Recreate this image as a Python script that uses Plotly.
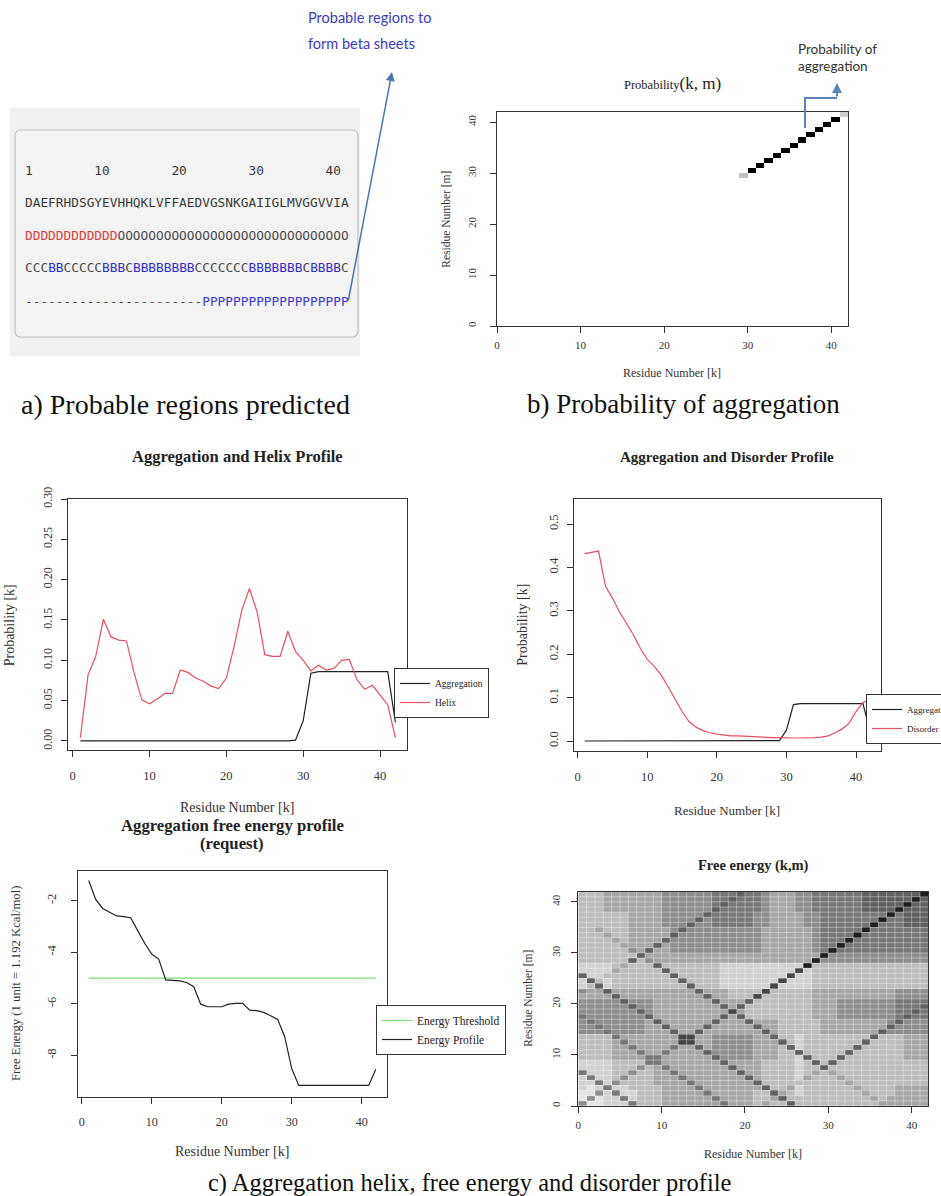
import plotly.graph_objects as go

W, H = 941, 1196

# ---------------- data ----------------
residues = list(range(1, 43))

sequence       = "DAEFRHDSGYEVHHQKLVFFAEDVGSNKGAIIGLMVGGVVIA"
disorder_pred  = "DDDDDDDDDD" "DD" "OOOOOOOOOO" "OOOOOOOOOO" "OOOOOOOOOO"
secondary_pred = "CCCBBCCCCC" "BBBCBBBBBB" "BBCCCCCCCB" "BBBBBBCBBB" "BC"
aggreg_pred    = "----------" "----------" "---" "PPPPPPPPPP" "PPPPPPPPP"
ruler_marks    = [1, 10, 20, 30, 40]

# probability of aggregation along the diagonal (k = m), residues 30..42
prob_km_residues = [30, 31, 32, 33, 34, 35, 36, 37, 38, 39, 40, 41, 42]
prob_km_values   = [0.25, 1.0, 1.0, 1.0, 1.0, 1.0, 1.0, 1.0, 1.0, 1.0, 1.0, 1.0, 0.2]

aggregation = [0.000, 0.000, 0.000, 0.000, 0.000, 0.000, 0.000, 0.000, 0.000, 0.000,
               0.000, 0.000, 0.000, 0.000, 0.000, 0.000, 0.000, 0.000, 0.000, 0.000,
               0.000, 0.000, 0.000, 0.000, 0.000, 0.000, 0.000, 0.000, 0.001, 0.025,
               0.084, 0.086, 0.086, 0.086, 0.086, 0.086, 0.086, 0.086, 0.086, 0.086,
               0.086, 0.023]

helix = [0.004, 0.082, 0.105, 0.151, 0.129, 0.125, 0.124, 0.084, 0.051, 0.046,
         0.052, 0.059, 0.059, 0.088, 0.085, 0.078, 0.074, 0.068, 0.065, 0.078,
         0.117, 0.162, 0.189, 0.160, 0.107, 0.105, 0.105, 0.136, 0.111, 0.100,
         0.087, 0.094, 0.088, 0.090, 0.100, 0.101, 0.076, 0.064, 0.069, 0.057,
         0.045, 0.004]

disorder = [0.432, 0.435, 0.438, 0.356, 0.329, 0.298, 0.273, 0.245, 0.214, 0.188,
            0.172, 0.152, 0.125, 0.095, 0.068, 0.045, 0.032, 0.024, 0.019, 0.016,
            0.014, 0.012, 0.012, 0.011, 0.011, 0.010, 0.009, 0.008, 0.008, 0.007,
            0.007, 0.007, 0.007, 0.008, 0.009, 0.012, 0.019, 0.028, 0.041, 0.068,
            0.089, 0.095]

energy = [-1.22, -1.95, -2.30, -2.43, -2.59, -2.62, -2.66, -3.16, -3.65, -4.07,
          -4.26, -5.07, -5.10, -5.11, -5.17, -5.33, -6.01, -6.11, -6.11, -6.11,
          -6.01, -5.98, -5.98, -6.24, -6.26, -6.33, -6.46, -6.60, -7.27, -8.50,
          -9.16, -9.16, -9.16, -9.16, -9.16, -9.16, -9.16, -9.16, -9.16, -9.16,
          -9.16, -8.54]
energy_threshold = -5.0

# Free energy (k,m): estimated grey level 0 (light) .. 9 (dark); first row is m = 1, columns k = 1..42
free_energy_rows = [
    "5112226 3334444 4446444 3433733 3333333 3444444",
    "1512262 3334444 4464444 3347333 3333333 4344444",
    "1152622 3334444 4644444 3374323 3333334 3334444",
    "2126223 3334444 6444444 4733423 3333343 3334444",
    "2262533 3344446 4444444 7333333 3333433 3333333",
    "2622353 3344464 4444447 4333324 3334333 3333333",
    "6222335 3344644 4444474 4333323 4343333 3333333",
    "2222333 5346444 4444744 4333323 3733333 3333333",
    "2222333 3664444 4447444 4333323 7373333 3333333",
    "3333444 4664444 4475555 4443327 3337333 3333444",
    "3333444 6446444 4755555 4443373 3333733 3333444",
    "3333446 4444644 7455555 4443723 3333373 3333444",
    "3333464 4444488 4455555 4447323 3333337 3333444",
    "3333644 4444488 4455555 4473323 3333333 7333444",
    "5556555 5444744 7444444 4743333 3444444 4755555",
    "5565555 5447444 4744444 7443333 3444444 4475555",
    "5655555 5474444 4474447 4443333 3444444 4457555",
    "6555555 5744444 4447473 3333333 4445555 5556766",
    "5555555 7544444 4444843 3333333 4445555 5556676",
    "5555557 5544444 4447473 3333333 4445555 5556667",
    "5555575 5544444 4474447 3333333 4445555 5556666",
    "4444744 4444444 4744333 8333333 4444444 4445555",
    "5447444 4444444 7444333 3833333 4444444 4445555",
    "2372333 3333337 3332222 2282222 3333333 3333333",
    "2732333 3333373 3332222 2228222 3333333 3333333",
    "7223333 3333733 3332222 2222822 3333333 3333333",
    "2222433 3337333 3332222 2222282 3333333 3333333",
    "2222343 3373333 3332222 2222229 3333333 3333333",
    "3333337 3544444 4444444 4444444 9555555 5555555",
    "3333333 7444444 4444444 4444444 4955555 5555555",
    "3333335 4744555 5555555 5444444 5696666 6666666",
    "3333344 4474555 5555555 5444444 5669666 6666666",
    "3333434 4447555 5555555 5444444 5666966 6666666",
    "3334334 4444755 5555555 5444444 5666696 6666666",
    "3343334 4444575 5555555 5444444 5666669 6666666",
    "3333334 4445557 5566666 5544445 5666666 9666777",
    "3333334 4445555 7566666 5544445 5666666 6966777",
    "3333334 4445555 5766666 5544445 5666666 6696777",
    "3334444 4445555 5576666 6544455 6666667 7779777",
    "3334444 4445555 5567666 6544455 6666667 7777977",
    "3334444 4445555 5566766 6544455 6666667 7777797",
    "3334444 4445555 5566676 6544455 6666667 7777779",
]

# ---------------- helpers ----------------
def X(px):
    return px / W

def Y(py):
    return 1 - py / H

def dom_x(a, b):
    return [X(a), X(b)]

def dom_y(top, bottom):
    return [Y(bottom), Y(top)]

SERIF = "Liberation Serif"
MONO = "DejaVu Sans Mono"

def txt(x, y, text, size, family=SERIF, color="#222", angle=0, xanchor="center", yanchor="middle"):
    return dict(x=X(x), y=Y(y), xref="paper", yref="paper", text=text, showarrow=False,
                font=dict(family=family, size=size, color=color), textangle=angle,
                xanchor=xanchor, yanchor=yanchor)

def colored(s, cmap, default="#444"):
    out, cur, run = [], None, ""
    for ch in s:
        c = cmap.get(ch, default)
        if c != cur and run:
            out.append("<span style='color:%s'>%s</span>" % (cur, run))
            run = ""
        cur = c
        run += ch.replace(" ", "\u00a0")
    if run:
        out.append("<span style='color:%s'>%s</span>" % (cur, run))
    return "".join(out)

def axis(domain, rng, tickvals, ticktext, anchor, size, is_y=False, standoff=0):
    d = dict(domain=domain, range=rng, anchor=anchor, tickmode="array",
             tickvals=tickvals, ticktext=ticktext, showline=True, mirror=True,
             linecolor="#333", linewidth=1, ticks="outside", ticklen=6, tickwidth=1,
             tickcolor="#333", tickfont=dict(family=SERIF, size=size, color="#333"),
             showgrid=False, zeroline=False, ticklabelstandoff=standoff, fixedrange=True)
    if is_y:
        d["tickangle"] = -90
    return d

# ---------------- derived matrices ----------------
n = len(residues)
cell_centres = [r - 0.5 for r in residues]

prob_z = [[None] * n for _ in range(n)]
for r, v in zip(prob_km_residues, prob_km_values):
    prob_z[r - 1][r - 1] = v

fe_z = [[int(c) for c in row.replace(" ", "")] for row in free_energy_rows]

fe_scale = [[0 / 9, "#f4f4f4"], [1 / 9, "#e4e4e4"], [2 / 9, "#d2d2d2"], [3 / 9, "#bdbdbd"],
            [4 / 9, "#a6a6a6"], [5 / 9, "#8e8e8e"], [6 / 9, "#777777"], [7 / 9, "#606060"],
            [8 / 9, "#464646"], [9 / 9, "#1e1e1e"]]

# ---------------- figure ----------------
fig = go.Figure()

# b) probability(k, m)
fig.add_trace(go.Heatmap(x=cell_centres, y=cell_centres, z=prob_z, zmin=0, zmax=1,
                         colorscale=[[0, "#ffffff"], [1, "#000000"]], showscale=False,
                         hoverongaps=False, xaxis="x", yaxis="y"))

# helix profile
fig.add_trace(go.Scatter(x=residues, y=aggregation, mode="lines", name="Aggregation",
                         line=dict(color="#222222", width=1.2), xaxis="x2", yaxis="y2", legend="legend"))
fig.add_trace(go.Scatter(x=residues, y=helix, mode="lines", name="Helix",
                         line=dict(color="#e8505f", width=1.2), xaxis="x2", yaxis="y2", legend="legend"))

# disorder profile
fig.add_trace(go.Scatter(x=residues, y=aggregation, mode="lines", name="Aggregation",
                         line=dict(color="#222222", width=1.2), xaxis="x3", yaxis="y3", legend="legend2"))
fig.add_trace(go.Scatter(x=residues, y=disorder, mode="lines", name="Disorder",
                         line=dict(color="#e8505f", width=1.2), xaxis="x3", yaxis="y3", legend="legend2"))

# free energy profile
fig.add_trace(go.Scatter(x=[residues[0], residues[-1]], y=[energy_threshold, energy_threshold],
                         mode="lines", name="Energy Threshold",
                         line=dict(color="#77dd77", width=1.2), xaxis="x4", yaxis="y4", legend="legend3"))
fig.add_trace(go.Scatter(x=residues, y=energy, mode="lines", name="Energy Profile",
                         line=dict(color="#222222", width=1.2), xaxis="x4", yaxis="y4", legend="legend3"))

# free energy (k,m)
fig.add_trace(go.Heatmap(x=cell_centres, y=cell_centres, z=fe_z, zmin=0, zmax=9,
                         colorscale=fe_scale, showscale=False, xaxis="x5", yaxis="y5"))

ticks40 = [0, 10, 20, 30, 40]
ticks40_txt = [str(t) for t in ticks40]

legend_common = dict(xanchor="left", yanchor="top", bordercolor="#333", borderwidth=1,
                     bgcolor="white", tracegroupgap=0)

layout = dict(
    width=W, height=H, margin=dict(l=0, r=0, t=0, b=0, autoexpand=False),
    paper_bgcolor="white", plot_bgcolor="white", showlegend=True,
    xaxis=axis(dom_x(497, 848), [0, 42], ticks40, ticks40_txt, "y", 11, standoff=3),
    yaxis=axis(dom_y(112, 326), [0, 42], ticks40, ticks40_txt, "x", 11, is_y=True, standoff=10),
    xaxis2=axis(dom_x(68, 407), [-0.61, 43.51], ticks40, ticks40_txt, "y2", 12.5, standoff=8),
    yaxis2=axis(dom_y(499, 750), [-0.0112, 0.300], [0, 0.05, 0.10, 0.15, 0.20, 0.25, 0.30],
                ["0.00", "0.05", "0.10", "0.15", "0.20", "0.25", "0.30"], "x2", 12, is_y=True, standoff=4),
    xaxis3=axis(dom_x(574, 881), [-0.53, 43.59], ticks40, ticks40_txt, "y3", 12.5, standoff=8),
    yaxis3=axis(dom_y(499, 751), [-0.023, 0.558], [0, 0.1, 0.2, 0.3, 0.4, 0.5],
                ["0.0", "0.1", "0.2", "0.3", "0.4", "0.5"], "x3", 12.5, is_y=True, standoff=4),
    xaxis4=axis(dom_x(77.7, 387.3), [-0.57, 43.66], ticks40, ticks40_txt, "y4", 12, standoff=8),
    yaxis4=axis(dom_y(870.7, 1096.7), [-9.597, -0.837], [-2, -4, -6, -8],
                ["-2", "-4", "-6", "-8"], "x4", 12.5, is_y=True, standoff=10),
    xaxis5=axis(dom_x(578.3, 928.3), [0, 42], ticks40, ticks40_txt, "y5", 11, standoff=3),
    yaxis5=axis(dom_y(891.7, 1106), [0, 42], ticks40, ticks40_txt, "x5", 11, is_y=True, standoff=7),
    legend=dict(x=X(394), y=Y(668), font=dict(family=SERIF, size=9.5, color="#222"), **legend_common),
    legend2=dict(x=X(866), y=Y(694), font=dict(family=SERIF, size=9, color="#222"), **legend_common),
    legend3=dict(x=X(376), y=Y(1005), font=dict(family=SERIF, size=11.5, color="#222"), **legend_common),
)
fig.update_layout(**layout)

# ---------------- shapes ----------------
def rounded_rect(x0, y0, x1, y1, r):
    return ("M %f,%f L %f,%f Q %f,%f %f,%f L %f,%f Q %f,%f %f,%f L %f,%f Q %f,%f %f,%f "
            "L %f,%f Q %f,%f %f,%f Z" % (
                X(x0 + r), Y(y0), X(x1 - r), Y(y0), X(x1), Y(y0), X(x1), Y(y0 + r),
                X(x1), Y(y1 - r), X(x1), Y(y1), X(x1 - r), Y(y1),
                X(x0 + r), Y(y1), X(x0), Y(y1), X(x0), Y(y1 - r),
                X(x0), Y(y0 + r), X(x0), Y(y0), X(x0 + r), Y(y0)))

shapes = [
    dict(type="rect", xref="paper", yref="paper", x0=X(10), x1=X(360), y0=Y(356), y1=Y(108),
         fillcolor="#f0f0f0", line=dict(width=0), layer="below"),
    dict(type="path", xref="paper", yref="paper", path=rounded_rect(15, 130, 358, 337, 6),
         fillcolor="#f3f3f3", line=dict(color="#c2c2c2", width=1.2), layer="below"),
    dict(type="path", xref="paper", yref="paper",
         path="M %f,%f L %f,%f L %f,%f" % (X(805), Y(128), X(805), Y(98), X(837), Y(98)),
         line=dict(color="#5b83bd", width=2)),
]
# light cell grid over the free energy map
for b in range(1, n):
    shapes.append(dict(type="line", xref="x5", yref="y5", x0=b, x1=b, y0=0, y1=n,
                       line=dict(color="rgba(255,255,255,0.35)", width=1), layer="above"))
    shapes.append(dict(type="line", xref="x5", yref="y5", x0=0, x1=n, y0=b, y1=b,
                       line=dict(color="rgba(255,255,255,0.35)", width=1), layer="above"))
fig.update_layout(shapes=shapes)

# ---------------- annotations ----------------
ruler = ["\u00a0"] * n
for m in ruler_marks:
    s = str(m)
    for i, ch in enumerate(s):
        ruler[m - 1 + i] = ch
ruler = "".join(ruler)

seq_rows = [
    (170, colored(ruler, {}, "#3a3a3a")),
    (202, colored(sequence, {}, "#3a3a3a")),
    (235, colored(disorder_pred, {"D": "#e03c3c", "O": "#4a4a4a"})),
    (268, colored(secondary_pred, {"C": "#4a4a4a", "B": "#2e2ed0"})),
    (302, colored(aggreg_pred, {"-": "#555555", "P": "#3a3ad6"})),
]

ann = []
for yy, t in seq_rows:
    ann.append(txt(23, yy, t, 12.8, family=MONO, xanchor="left"))

ann += [
    txt(306, 18, "Probable regions to", 14.5, family="Lato", color="#3b3bc4", xanchor="left"),
    txt(306, 44, "form beta sheets", 14.5, family="Lato", color="#3b3bc4", xanchor="left"),
    dict(x=X(392), y=Y(72), xref="paper", yref="paper", text="", showarrow=True,
         ax=-44, ay=230, arrowhead=2, arrowsize=1.2, arrowwidth=1.5, arrowcolor="#4a78b0"),
    # b)
    txt(672, 84, "Probability<span style='font-size:17px'>(k, m)</span>", 12.5),
    txt(672, 373, "Residue Number [k]", 12, color="#333"),
    txt(445.7, 219, "Residue Number [m]", 11.5, color="#333", angle=-90),
    txt(837.5, 49, "Probability of", 13.5, family="Lato", color="#333"),
    txt(833, 66, "aggregation", 13.5, family="Lato", color="#333"),
    dict(x=X(837), y=Y(83), xref="paper", yref="paper", text="", showarrow=True,
         ax=0, ay=15, arrowhead=2, arrowsize=1, arrowwidth=2, arrowcolor="#5b83bd"),
    # helix
    txt(237.7, 456.7, "<b>Aggregation and Helix Profile</b>", 16.5),
    txt(9.3, 625, "Probability [k]", 14, color="#333", angle=-90),
    txt(236.7, 807, "Residue Number [k]", 14, color="#333"),
    # disorder
    txt(726.7, 456.7, "<b>Aggregation and Disorder Profile</b>", 15),
    txt(521.7, 625, "Probability [k]", 14, color="#333", angle=-90),
    txt(726.7, 810.7, "Residue Number [k]", 13, color="#333"),
    # free energy profile
    txt(232, 825, "<b>Aggregation free energy profile</b>", 16.7),
    txt(232, 843, "<b>(request)</b>", 16.7),
    txt(16.7, 983.3, "Free Energy (1 unit = 1.192 Kcal/mol)", 12.7, color="#333", angle=-90),
    txt(231.7, 1151.7, "Residue Number [k]", 14, color="#333"),
    # free energy (k,m)
    txt(753.3, 865.7, "<b>Free energy (k,m)</b>", 14.5),
    txt(752.7, 1154, "Residue Number [k]", 12, color="#333"),
    txt(527.7, 998, "Residue Number [m]", 11.5, color="#333", angle=-90),
    # captions
    txt(185, 404, "a) Probable regions predicted", 28, color="#111"),
    txt(683, 404, "b) Probability of aggregation", 27, color="#111"),
    txt(470, 1183, "c) Aggregation helix, free energy and disorder profile", 24.5, color="#111"),
]
fig.update_layout(annotations=ann)

fig.write_html("out.html", config={"displayModeBar": False},
               post_script="document.body.style.margin='0';")
